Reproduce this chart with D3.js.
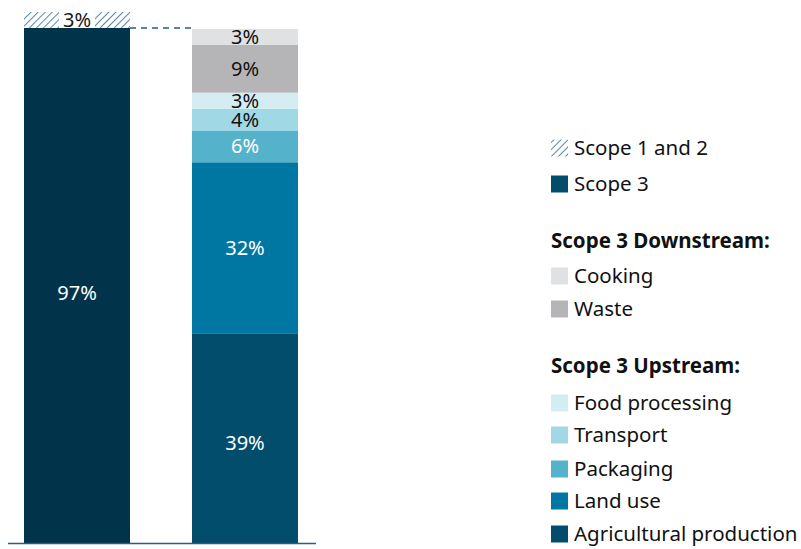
<!DOCTYPE html>
<html>
<head>
<meta charset="utf-8">
<script src="https://cdn.jsdelivr.net/npm/d3@7"></script>
<style>
  body { margin: 0; background: #fff; }
  text { font-family: "Noto Sans", "Open Sans", sans-serif; }
</style>
</head>
<body>
<div id="chart"></div>
<script>
// bars
const bars = ["Total", "Breakdown"];

// left bar: scope split
const scopeNames = ["Scope 3", "Scope 1 and 2"];
const scopeValues = [97, 3];
const scopeLabels = ["97%", "3%"];

// right bar: scope 3 breakdown, bottom to top
const partNames = ["Agricultural production", "Land use", "Packaging", "Transport", "Food processing", "Waste", "Cooking"];
const partValues = [39.5, 32.2, 6.0, 4.1, 3.0, 9.0, 3.0];
const partLabels = ["39%", "32%", "6%", "4%", "3%", "9%", "3%"];
const partColors = ["#024d6c", "#0077a2", "#55b2cb", "#a0d9e5", "#d4edf2", "#b5b5b7", "#e0e1e3"];
const partText = ["#fff", "#fff", "#fff", "#111", "#111", "#111", "#111"];

const width = 801, height = 549;

const svg = d3.select("#chart")
  .append("svg")
    .attr("width", width)
    .attr("height", height);

const defs = svg.append("defs");
const pat = defs.append("pattern")
    .attr("id", "hatch")
    .attr("patternUnits", "userSpaceOnUse")
    .attr("width", 5)
    .attr("height", 5)
    .attr("patternTransform", "rotate(45)");
pat.append("rect").attr("width", 5).attr("height", 5).attr("fill", "#fff");
pat.append("line")
    .attr("x1", 0).attr("y1", 0).attr("x2", 0).attr("y2", 5)
    .attr("stroke", "#2a6f8f")
    .attr("stroke-width", 1.6);

const x = d3.scaleBand()
    .domain(bars)
    .range([24, 298])
    .paddingInner(0.369)
    .paddingOuter(0);

const y = d3.scaleLinear()
    .domain([0, 100])
    .range([543, 12]);

// left bar
let acc = 0;
const scopeStack = scopeValues.map((v, i) => {
  const d = {name: scopeNames[i], y0: acc, y1: acc + v, label: scopeLabels[i]};
  acc += v;
  return d;
});

svg.append("g")
  .selectAll("rect")
  .data(scopeStack)
  .join("rect")
    .attr("x", x("Total"))
    .attr("width", x.bandwidth())
    .attr("y", d => y(d.y1))
    .attr("height", d => y(d.y0) - y(d.y1))
    .attr("fill", (d, i) => i === 0 ? "#01344a" : "url(#hatch)");

// white box behind the 3% label on the hatch
const topSeg = scopeStack[1];
svg.append("rect")
    .attr("x", x("Total") + x.bandwidth() / 2 - 18)
    .attr("y", y(topSeg.y1))
    .attr("width", 36)
    .attr("height", y(topSeg.y0) - y(topSeg.y1))
    .attr("fill", "#fff");

svg.append("g")
    .attr("font-size", 20)
    .attr("text-anchor", "middle")
  .selectAll("text")
  .data(scopeStack)
  .join("text")
    .attr("x", x("Total") + x.bandwidth() / 2)
    .attr("y", (d, i) => i === 0 ? (y(d.y0) + y(d.y1)) / 2 + 8 : (y(d.y0) + y(d.y1)) / 2)
    .attr("dy", "0.35em")
    .attr("fill", (d, i) => i === 0 ? "#fff" : "#1a1a1a")
    .text(d => d.label);

// right bar
acc = 0;
const partStack = partValues.map((v, i) => {
  const d = {name: partNames[i], y0: acc, y1: acc + v, label: partLabels[i], color: partColors[i], tc: partText[i]};
  acc += v;
  return d;
});

svg.append("g")
  .selectAll("rect")
  .data(partStack)
  .join("rect")
    .attr("x", x("Breakdown"))
    .attr("width", x.bandwidth())
    .attr("y", d => y(d.y1))
    .attr("height", d => y(d.y0) - y(d.y1))
    .attr("fill", d => d.color);

svg.append("g")
    .attr("font-size", 20)
    .attr("text-anchor", "middle")
  .selectAll("text")
  .data(partStack)
  .join("text")
    .attr("x", x("Breakdown") + x.bandwidth() / 2)
    .attr("y", (d, i) => (y(d.y0) + y(d.y1)) / 2 + (i === 0 ? 5 : 0))
    .attr("dy", "0.35em")
    .attr("fill", d => d.tc)
    .text(d => d.label);

// dashed connector
svg.append("line")
    .attr("x1", x("Total") + x.bandwidth())
    .attr("x2", x("Breakdown"))
    .attr("y1", y(scopeValues[0]))
    .attr("y2", y(scopeValues[0]))
    .attr("stroke", "#1d5f7e")
    .attr("stroke-width", 1.5)
    .attr("stroke-dasharray", "6,5");

// baseline
svg.append("line")
    .attr("x1", 8)
    .attr("x2", 316)
    .attr("y1", y(0) + 0.5)
    .attr("y2", y(0) + 0.5)
    .attr("stroke", "#2b5d7c")
    .attr("stroke-width", 1.5);

// legend
const legendItems = [
  {type: "swatch", fill: "url(#hatch)", text: "Scope 1 and 2", y: 148},
  {type: "swatch", fill: "#024d6c", text: "Scope 3", y: 184},
  {type: "head", text: "Scope 3 Downstream:", y: 241},
  {type: "swatch", fill: partColors[6], text: "Cooking", y: 276},
  {type: "swatch", fill: partColors[5], text: "Waste", y: 309},
  {type: "head", text: "Scope 3 Upstream:", y: 366},
  {type: "swatch", fill: partColors[4], text: "Food processing", y: 403},
  {type: "swatch", fill: partColors[3], text: "Transport", y: 435},
  {type: "swatch", fill: partColors[2], text: "Packaging", y: 469},
  {type: "swatch", fill: partColors[1], text: "Land use", y: 501},
  {type: "swatch", fill: partColors[0], text: "Agricultural production", y: 534}
];

const lg = svg.append("g");
lg.selectAll("rect")
  .data(legendItems.filter(d => d.type === "swatch"))
  .join("rect")
    .attr("x", 551)
    .attr("y", d => d.y - 8.5)
    .attr("width", 17)
    .attr("height", 17)
    .attr("fill", d => d.fill);

lg.selectAll("text")
  .data(legendItems)
  .join("text")
    .attr("x", d => d.type === "head" ? 551 : 574)
    .attr("y", d => d.y)
    .attr("dy", "0.35em")
    .attr("font-size", 20.5)
    .attr("font-weight", d => d.type === "head" ? "bold" : "normal")
    .attr("fill", "#111")
    .text(d => d.text);
</script>
</body>
</html>
